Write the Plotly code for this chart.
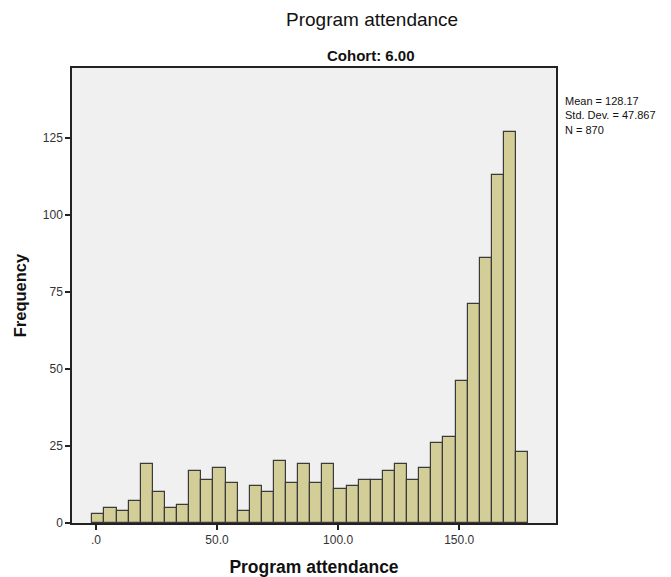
import plotly.graph_objects as go

# Data
counts = [3, 5, 4, 7, 19, 10, 5, 6, 17, 14, 18, 13, 4, 12, 10, 20, 13, 19,
          13, 19, 11, 12, 14, 14, 17, 19, 14, 18, 26, 28, 46, 71, 86, 113, 127, 23]
bin_start = -1.5
bin_width = 5.0
x_tick_vals = [0, 50, 100, 150]
x_tick_text = [".0", "50.0", "100.0", "150.0"]
y_tick_vals = [0, 25, 50, 75, 100, 125]
y_tick_text = ["0", "25", "50", "75", "100", "125"]
stats_lines = ["Mean = 128.17", "Std. Dev. = 47.867", "N = 870"]

centers = [bin_start + bin_width * (i + 0.5) for i in range(len(counts))]

fig = go.Figure()
fig.add_trace(go.Bar(
    x=centers, y=counts, width=bin_width,
    marker=dict(color="#D3CE97", line=dict(color="#3a3a3a", width=1.2)),
    hoverinfo="x+y",
))

font_main = "Liberation Sans, Arial, sans-serif"

# page body has an 8px margin; plot area targeted at x 72..556, y 68..523 on screen
fig.update_layout(
    width=663, height=569,
    margin=dict(l=64, r=115, t=60, b=54),
    paper_bgcolor="white",
    plot_bgcolor="#F0F0F0",
    showlegend=False,
    bargap=0,
    font=dict(family=font_main, size=12, color="#222"),
)
fig.update_xaxes(
    range=[-9.9, 190], tickvals=x_tick_vals, ticktext=x_tick_text,
    showgrid=False, zeroline=False, automargin=False,
    showline=True, linecolor="#222", linewidth=1.5, mirror=True,
    ticks="outside", ticklen=5, tickcolor="#222", tickwidth=1.5,
    tickfont=dict(size=12, color="#333"),
    title=dict(text="<b>Program attendance</b>", font=dict(size=17.5, color="#111"), standoff=16),
)
fig.update_yaxes(
    range=[0, 147.7], tickvals=y_tick_vals, ticktext=y_tick_text,
    showgrid=False, zeroline=False, automargin=False,
    showline=True, linecolor="#222", linewidth=1.5, mirror=True,
    ticks="outside", ticklen=5, tickcolor="#222", tickwidth=1.5,
    tickfont=dict(size=12, color="#333"),
    title=dict(text="<b>Frequency</b>", font=dict(size=16.5, color="#111"), standoff=12),
)

fig.add_annotation(
    text="Program attendance", xref="paper", yref="paper",
    x=(372 - 72) / 484, y=(523 - 20) / 455, yanchor="middle", xanchor="center",
    showarrow=False, font=dict(family=font_main, size=19, color="#111"),
)
fig.add_annotation(
    text="<b>Cohort: 6.00</b>", xref="paper", yref="paper",
    x=(371 - 72) / 484, y=(523 - 55) / 455, yanchor="middle", xanchor="center",
    showarrow=False, font=dict(family="Liberation Sans Narrow, Arial Narrow, " + font_main, size=15, color="#111"),
)
fig.add_annotation(
    text="<br>".join(stats_lines), xref="paper", yref="paper",
    x=(563 - 72) / 484, y=(523 - 93) / 455, yanchor="top", xanchor="left", align="left",
    showarrow=False, font=dict(family=font_main, size=11, color="#111"),
)

fig.write_html("out.html")
